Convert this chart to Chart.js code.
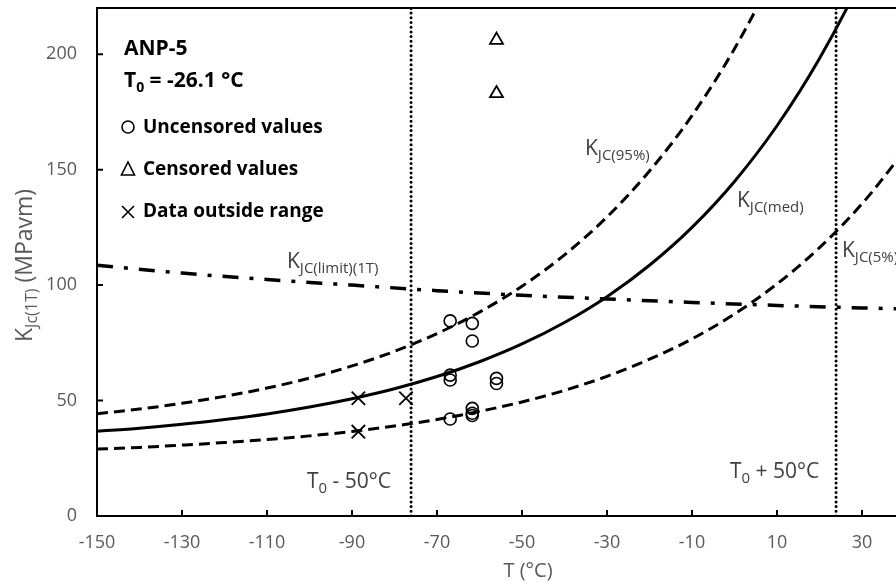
<!DOCTYPE html>
<html>
<head>
<meta charset="utf-8">
<script src="https://cdn.jsdelivr.net/npm/chart.js@4.4.0/dist/chart.umd.min.js"></script>
<style>
  html, body { margin: 0; padding: 0; background: #fff; }
  #wrap { width: 896px; height: 583px; position: relative; }
</style>
</head>
<body>
<div id="wrap"><canvas id="chart"></canvas></div>
<script>
// reference temperature
const T0 = -26.1;

// master curve values
const curveT = [-150, -140, -130, -120, -110, -100, -90, -80, -70, -60, -50, -40, -30, -20, -10, 0, 10, 20, 30, 40];
const kMed = [36.7, 38.0, 39.7, 41.8, 44.2, 47.2, 50.8, 55.1, 60.4, 66.8, 74.5, 83.8, 95.0, 108.6, 125.0, 144.9, 169.0, 198.1, 233.2, 275.8];
const k95 = [44.3, 46.3, 48.8, 51.8, 55.4, 59.7, 65.0, 71.3, 79.0, 88.3, 99.5, 113.1, 129.5, 149.4, 173.4, 202.4, 237.5, 280.0, 331.3, 393.4];
const k5 = [29.0, 29.7, 30.7, 31.8, 33.1, 34.7, 36.6, 39.0, 41.8, 45.3, 49.4, 54.4, 60.5, 67.9, 76.7, 87.5, 100.5, 116.2, 135.2, 158.1];

// size limit line
const limitT = [-150, -130, -110, -90, -70, -50, -30, -10, 10, 30, 40];
const kLimit = [108.6, 105.2, 102.4, 100.0, 97.6, 95.6, 94.0, 92.5, 91.2, 90.1, 89.7];

// test data
const uncensoredT = [-66.9, -61.7, -61.7, -66.9, -66.9, -56.0, -56.0, -61.7, -61.7, -61.7, -66.9];
const uncensoredK = [84.5, 83.4, 75.8, 61.0, 58.9, 59.6, 57.4, 46.6, 44.5, 43.5, 42.0];
const censoredT = [-56.0, -56.0];
const censoredK = [206.1, 183.0];
const outsideT = [-88.5, -77.3, -88.5];
const outsideK = [51.0, 51.0, 36.5];

// axes
const xTicks = [-150, -130, -110, -90, -70, -50, -30, -10, 10, 30];
const yTicks = [0, 50, 100, 150, 200];
const xMin = -150, xMax = 38, yMin = 0, yMax = 220;

Chart.defaults.font.family = "'Open Sans', sans-serif";

function pts(xs, ys) {
    return xs.map((x, i) => ({ x: x, y: ys[i] }));
}

function drawRich(ctx, x, y, parts, color) {
    ctx.save();
    ctx.fillStyle = color;
    ctx.textBaseline = 'alphabetic';
    ctx.textAlign = 'left';
    let cx = x;
    parts.forEach(p => {
        ctx.font = (p.bold ? 'bold ' : '') + p.size + "px 'Open Sans'";
        ctx.fillText(p.t, cx, y + (p.dy || 0));
        cx += ctx.measureText(p.t).width;
    });
    ctx.restore();
}

function kLabel(sub) {
    return [{ t: 'K', size: 21 }, { t: sub, size: 15, dy: 5 }];
}

function noPadding(scale) {
    scale.paddingLeft = 0;
    scale.paddingRight = 0;
    scale.paddingTop = 0;
    scale.paddingBottom = 0;
}

// frame, inward ticks and text annotations
const annotations = {
    id: 'annotations',
    afterDraw(chart) {
        const ctx = chart.ctx;
        const area = chart.chartArea;
        const xs = chart.scales.x, ys = chart.scales.y;

        ctx.save();
        ctx.strokeStyle = '#000';
        ctx.lineWidth = 2;
        ctx.beginPath();
        ctx.moveTo(area.left - 1, area.top);
        ctx.lineTo(area.right, area.top);
        xTicks.forEach(v => {
            const px = xs.getPixelForValue(v);
            ctx.moveTo(px, area.bottom);
            ctx.lineTo(px, area.bottom - 6);
        });
        yTicks.forEach(v => {
            const py = ys.getPixelForValue(v);
            ctx.moveTo(area.left, py);
            ctx.lineTo(area.left + 6, py);
        });
        ctx.stroke();
        ctx.restore();

        const dark = '#404040';
        drawRich(ctx, 124, 55, [{ t: 'ANP-5', size: 21, bold: true }], '#000');
        drawRich(ctx, 124, 87, [
            { t: 'T', size: 21, bold: true },
            { t: '0', size: 14, bold: true, dy: 5 },
            { t: ' = -26.1 °C', size: 21, bold: true }
        ], '#000');

        drawRich(ctx, 143, 133, [{ t: 'Uncensored values', size: 19, bold: true }], '#000');
        drawRich(ctx, 143, 175, [{ t: 'Censored values', size: 19, bold: true }], '#000');
        drawRich(ctx, 143, 217, [{ t: 'Data outside range', size: 19, bold: true }], '#000');

        // legend symbols
        ctx.save();
        ctx.strokeStyle = '#000';
        ctx.lineWidth = 1.6;
        ctx.beginPath();
        ctx.arc(128, 127, 6, 0, Math.PI * 2);
        ctx.stroke();
        ctx.beginPath();
        ctx.moveTo(128, 162);
        ctx.lineTo(134.5, 175);
        ctx.lineTo(121.5, 175);
        ctx.closePath();
        ctx.stroke();
        ctx.beginPath();
        ctx.moveTo(122, 206);
        ctx.lineTo(134, 218);
        ctx.moveTo(134, 206);
        ctx.lineTo(122, 218);
        ctx.stroke();
        ctx.restore();

        drawRich(ctx, 287, 268, kLabel('JC(limit)(1T)'), dark);
        drawRich(ctx, 585, 155, kLabel('JC(95%)'), dark);
        drawRich(ctx, 737, 207, kLabel('JC(med)'), dark);
        drawRich(ctx, 842, 257, kLabel('JC(5%)'), dark);

        drawRich(ctx, 307, 488, [
            { t: 'T', size: 21 }, { t: '0', size: 15, dy: 5 }, { t: ' - 50°C', size: 21 }
        ], dark);
        drawRich(ctx, 730, 478, [
            { t: 'T', size: 21 }, { t: '0', size: 15, dy: 5 }, { t: ' + 50°C', size: 21 }
        ], dark);

        // axis titles
        ctx.save();
        ctx.font = "20px 'Open Sans'";
        ctx.fillStyle = '#595959';
        ctx.textAlign = 'center';
        ctx.fillText('T (°C)', 528, 577);
        ctx.restore();

        ctx.save();
        ctx.translate(32, 342);
        ctx.rotate(-Math.PI / 2);
        drawRich(ctx, 0, 0, [
            { t: 'K', size: 23 }, { t: 'Jc(1T)', size: 16, dy: 5 }, { t: ' (MPavm)', size: 23 }
        ], '#595959');
        ctx.restore();
    }
};

const dashed = [11, 6];

new Chart(document.getElementById('chart'), {
    type: 'scatter',
    data: {
        datasets: [
            {
                label: 'KJC(med)',
                data: pts(curveT, kMed),
                showLine: true,
                borderColor: '#000',
                borderWidth: 3,
                pointRadius: 0,
                cubicInterpolationMode: 'monotone'
            },
            {
                label: 'KJC(95%)',
                data: pts(curveT, k95),
                showLine: true,
                borderColor: '#000',
                borderWidth: 3,
                borderDash: dashed,
                pointRadius: 0,
                cubicInterpolationMode: 'monotone'
            },
            {
                label: 'KJC(5%)',
                data: pts(curveT, k5),
                showLine: true,
                borderColor: '#000',
                borderWidth: 3,
                borderDash: dashed,
                pointRadius: 0,
                cubicInterpolationMode: 'monotone'
            },
            {
                label: 'KJC(limit)(1T)',
                data: pts(limitT, kLimit),
                showLine: true,
                borderColor: '#000',
                borderWidth: 3.5,
                borderDash: [16, 11, 4, 11],
                pointRadius: 0,
                cubicInterpolationMode: 'monotone'
            },
            {
                label: 'T0 - 50',
                data: pts([T0 - 50, T0 - 50], [yMin, yMax]),
                showLine: true,
                borderColor: '#000',
                borderWidth: 3,
                borderDash: [0, 4.7],
                borderCapStyle: 'round',
                pointRadius: 0
            },
            {
                label: 'T0 + 50',
                data: pts([T0 + 50, T0 + 50], [yMin, yMax]),
                showLine: true,
                borderColor: '#000',
                borderWidth: 3,
                borderDash: [0, 4.7],
                borderCapStyle: 'round',
                pointRadius: 0
            },
            {
                label: 'Uncensored values',
                data: pts(uncensoredT, uncensoredK),
                pointStyle: 'circle',
                pointRadius: 6,
                borderWidth: 1.6,
                borderColor: '#000',
                backgroundColor: 'rgba(0,0,0,0)'
            },
            {
                label: 'Censored values',
                data: pts(censoredT, censoredK),
                pointStyle: 'triangle',
                pointRadius: 7.5,
                borderWidth: 1.8,
                borderColor: '#000',
                backgroundColor: 'rgba(0,0,0,0)'
            },
            {
                label: 'Data outside range',
                data: pts(outsideT, outsideK),
                pointStyle: 'crossRot',
                pointRadius: 9.5,
                borderWidth: 1.8,
                borderColor: '#000',
                backgroundColor: 'rgba(0,0,0,0)'
            }
        ]
    },
    options: {
        responsive: true,
        maintainAspectRatio: false,
        animation: false,
        layout: { autoPadding: false, padding: { left: 0, right: 0, top: 8, bottom: 0 } },
        plugins: {
            legend: { display: false },
            tooltip: { enabled: false }
        },
        scales: {
            x: {
                type: 'linear',
                min: xMin,
                max: xMax,
                grid: { display: false, drawTicks: false },
                border: { display: true, color: '#000', width: 2 },
                ticks: {
                    color: '#595959',
                    font: { size: 18 },
                    padding: 16,
                    maxRotation: 0
                },
                afterBuildTicks: (scale) => {
                    scale.ticks = xTicks.map(v => ({ value: v }));
                },
                afterFit: (scale) => {
                    scale.height = 67;
                    noPadding(scale);
                }
            },
            y: {
                type: 'linear',
                min: yMin,
                max: yMax,
                grid: { display: false, drawTicks: false },
                border: { display: true, color: '#000', width: 2 },
                ticks: {
                    color: '#595959',
                    font: { size: 18 },
                    padding: 20
                },
                afterBuildTicks: (scale) => {
                    scale.ticks = yTicks.map(v => ({ value: v }));
                },
                afterFit: (scale) => {
                    scale.width = 97;
                    noPadding(scale);
                }
            }
        }
    },
    plugins: [annotations]
});
</script>
</body>
</html>
